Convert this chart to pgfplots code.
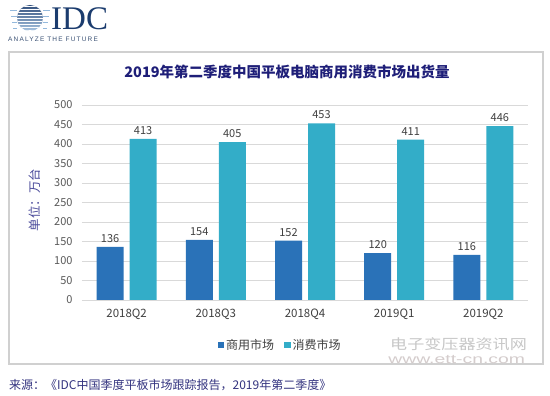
\documentclass[border=0pt]{standalone}
\usepackage{fontspec}
\setmainfont{Noto Sans CJK SC}
\newfontfamily\logofont[LetterSpace=18]{Liberation Sans}
\newfontfamily\idcfont{Liberation Serif}
\newfontfamily\wmfont{Liberation Sans}
\usepackage{pgfplots}
\pgfplotsset{compat=1.18}
\definecolor{bizblue}{HTML}{2A72B8}
\definecolor{conscyan}{HTML}{33ADC8}
\definecolor{titlenavy}{HTML}{1E1E78}
\definecolor{labelgray}{HTML}{404040}
\definecolor{tickgray}{HTML}{595959}
\definecolor{gridgray}{HTML}{D9D9D9}
\definecolor{framegray}{HTML}{D0D0D0}
\definecolor{srcnavy}{HTML}{33337F}
\definecolor{ylabpurple}{HTML}{4B4B9B}
\definecolor{idcnavy}{HTML}{1B3C6E}
\begin{document}
\begin{tikzpicture}[x=1pt,y=1pt]
\useasboundingbox (0,0) rectangle (550,396);
\fill[white] (0,0) rectangle (550,396);
% frame
\draw[framegray, line width=1.3pt] (9,32) rectangle (543,344);
% logo globe
\begin{scope}
\clip (30,378) circle (13);
\shade[top color=idcnavy!90, bottom color=bizblue!40] (15,365) rectangle (45,391);
\foreach \i in {0,...,9} { \draw[white, line width=0.9pt] (15,390-3*\i) -- (45,390-3*\i); }
\end{scope}
\foreach \i/\l in {2/20,4/19,6/18,8/17} {
  \draw[bizblue!50, line width=0.6pt] (30-\l,390-3*\i+1.5) -- (17,390-3*\i+1.5);
  \draw[bizblue!50, line width=0.6pt] (43,390-3*\i+1.5) -- (30+\l,390-3*\i+1.5);
}
\node[text=idcnavy, font=\idcfont\fontsize{33}{33}\selectfont, anchor=base west, inner sep=0, text depth=0pt] at (51,366) {IDC};
\node[text=idcnavy!70!gray, font=\logofont\fontsize{6.5}{7}\selectfont, anchor=west, inner sep=0] at (8,357) {ANALYZE THE FUTURE};
% title
\node[text=titlenavy, font=\fontsize{14.5}{16}\selectfont\bfseries] at (287,324) {2019年第二季度中国平板电脑商用消费市场出货量};
% y label
\node[text=ylabpurple, rotate=90, font=\fontsize{12.5}{14}\selectfont] at (35,196) {单位：万台};
% watermark
\node[text=black!22, font=\fontsize{14}{15}\selectfont, anchor=west, inner sep=0, xscale=1.22] at (390,52) {电子变压器资讯网};
\node[text=red!15!black!20, font=\wmfont\fontsize{12.5}{13}\selectfont, anchor=west, inner sep=0, xscale=1.55] at (388,36) {www.ett-cn.com};
% source
\node[text=srcnavy, font=\fontsize{12}{14}\selectfont, anchor=west, inner sep=0] at (9,11) {来源：《IDC中国季度平板市场跟踪报告，2019年第二季度》};
\begin{axis}[
  at={(82pt,96pt)}, anchor=south west,
  width=446pt, height=195pt, scale only axis,
  ybar=6pt, bar width=27pt,
  xmin=-0.5, xmax=4.5, ymin=0, ymax=500,
  enlargelimits=false,
  xtick=data,
  xticklabels={2018Q2,2018Q3,2018Q4,2019Q1,2019Q2},
  ytick={0,50,...,500},
  ymajorgrids,
  grid style={gridgray, line width=0.9pt},
  axis line style={draw=none},
  major tick length=0pt,
  /pgf/number format/assume math mode=true,
  yticklabel style={font=\fontsize{11}{13}\selectfont, text=tickgray, xshift=-6pt},
  xticklabel style={font=\fontsize{11.5}{13}\selectfont, text=labelgray, yshift=-5pt},
  nodes near coords,
  every node near coord/.append style={font=\fontsize{11}{13}\selectfont, text=labelgray, yshift=1pt},
  legend style={at={(0.444,-0.23)}, anchor=center, legend columns=2, draw=none, fill=none,
    font=\fontsize{12}{14}\selectfont, text=labelgray,
    /tikz/every even column/.append style={column sep=8pt}},
  legend image code/.code={\fill[#1] (0pt,-3.2pt) rectangle (6.5pt,3.2pt);},
]
\addplot[fill=bizblue, draw=none] coordinates {(0,136) (1,154) (2,152) (3,120) (4,116)};
\addplot[fill=conscyan, draw=none] coordinates {(0,413) (1,405) (2,453) (3,411) (4,446)};
\legend{商用市场,消费市场}
\end{axis}
\end{tikzpicture}
\end{document}
